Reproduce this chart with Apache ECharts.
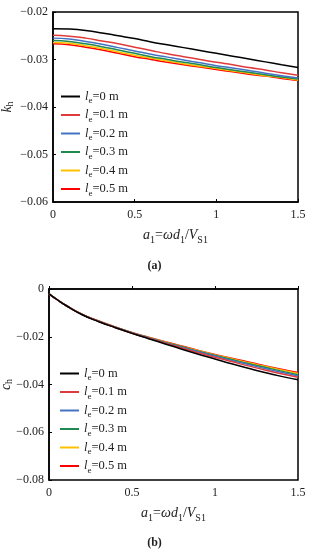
<!DOCTYPE html>
<html>
<head>
<meta charset="utf-8">
<script src="https://cdn.jsdelivr.net/npm/echarts@6/dist/echarts.min.js"></script>
<style>
html,body{margin:0;padding:0;background:#fff;}
#chart{width:309px;height:550px;}
</style>
</head>
<body>
<div id="chart"></div>
<script>
// ---- data ----
const seriesNames = ['0', '0.1', '0.2', '0.3', '0.4', '0.5'];
const seriesColors = ['#000000', '#e03a3a', '#4472c4', '#1e8a50', '#ffc000', '#ff0000'];

const xTop = [0, 0.1, 0.2, 0.3, 0.4, 0.5, 0.6, 0.7, 0.8, 0.9, 1.0, 1.1, 1.2, 1.3, 1.4, 1.5];
const kh_0   = [-0.0235,-0.0236,-0.0239,-0.0244,-0.0250,-0.0256,-0.0263,-0.0269,-0.0275,-0.0281,-0.0287,-0.0293,-0.0299,-0.0305,-0.0311,-0.0317];
const kh_0_1 = [-0.0249,-0.0251,-0.0255,-0.0261,-0.0267,-0.0274,-0.0281,-0.0288,-0.0294,-0.0300,-0.0306,-0.0311,-0.0317,-0.0322,-0.0328,-0.0333];
const kh_0_2 = [-0.0255,-0.0257,-0.0262,-0.0268,-0.0275,-0.0282,-0.0289,-0.0295,-0.0301,-0.0307,-0.0313,-0.0318,-0.0323,-0.0329,-0.0334,-0.0339];
const kh_0_3 = [-0.0260,-0.0262,-0.0267,-0.0273,-0.0280,-0.0287,-0.0294,-0.0300,-0.0306,-0.0311,-0.0317,-0.0322,-0.0327,-0.0332,-0.0337,-0.0341];
const kh_0_4 = [-0.0264,-0.0266,-0.0271,-0.0277,-0.0284,-0.0291,-0.0297,-0.0303,-0.0309,-0.0314,-0.0319,-0.0324,-0.0329,-0.0334,-0.0338,-0.0343];
const kh_0_5 = [-0.0267,-0.0269,-0.0274,-0.0280,-0.0287,-0.0294,-0.0300,-0.0306,-0.0311,-0.0316,-0.0321,-0.0326,-0.0331,-0.0335,-0.0340,-0.0344];

const xBot = [0, 0.05, 0.1, 0.2, 0.3, 0.4, 0.5, 0.6, 0.7, 0.8, 0.9, 1.0, 1.1, 1.2, 1.3, 1.4, 1.5];
const ch_0   = [-0.0020,-0.0045,-0.0068,-0.0108,-0.0137,-0.0162,-0.0186,-0.0208,-0.0230,-0.0252,-0.0273,-0.0293,-0.0313,-0.0332,-0.0350,-0.0366,-0.0380];
const ch_0_1 = [-0.0020,-0.0045,-0.0068,-0.0107,-0.0136,-0.0161,-0.0185,-0.0206,-0.0227,-0.0247,-0.0267,-0.0286,-0.0304,-0.0322,-0.0339,-0.0355,-0.0370];
const ch_0_2 = [-0.0020,-0.0045,-0.0068,-0.0107,-0.0136,-0.0161,-0.0184,-0.0205,-0.0225,-0.0244,-0.0263,-0.0281,-0.0299,-0.0316,-0.0333,-0.0349,-0.0364];
const ch_0_3 = [-0.0020,-0.0045,-0.0068,-0.0107,-0.0135,-0.0160,-0.0183,-0.0204,-0.0224,-0.0242,-0.0261,-0.0278,-0.0295,-0.0312,-0.0328,-0.0344,-0.0359];
const ch_0_4 = [-0.0020,-0.0045,-0.0068,-0.0106,-0.0135,-0.0160,-0.0183,-0.0203,-0.0222,-0.0241,-0.0259,-0.0276,-0.0292,-0.0309,-0.0324,-0.0339,-0.0354];
const ch_0_5 = [-0.0020,-0.0045,-0.0068,-0.0106,-0.0134,-0.0159,-0.0182,-0.0202,-0.0221,-0.0239,-0.0257,-0.0274,-0.0290,-0.0306,-0.0321,-0.0336,-0.0350];

const khData = [kh_0, kh_0_1, kh_0_2, kh_0_3, kh_0_4, kh_0_5];
const chData = [ch_0, ch_0_1, ch_0_2, ch_0_3, ch_0_4, ch_0_5];

const xTicks = {min: 0, max: 1.5, interval: 0.5};
const yTopTicks = {min: -0.06, max: -0.02, interval: 0.01};
const yBotTicks = {min: -0.08, max: 0, interval: 0.02};

// ---- chart ----
const FONT = '"Liberation Serif", "DejaVu Serif", serif';
const TXT = '#222';
const rich = {
  i: {fontFamily: FONT, fontStyle: 'italic', fontSize: 14, color: TXT},
  t: {fontFamily: FONT, fontSize: 14, color: TXT},
  s: {fontFamily: FONT, fontSize: 10, color: TXT, padding: [9, 0, 0, 0]}
};
const yRich = {
  i: {fontFamily: FONT, fontStyle: 'italic', fontSize: 14, color: TXT},
  s: {fontFamily: FONT, fontSize: 10, color: TXT, padding: [6, 0, 0, 0]}
};
const legRich = {
  i: {fontFamily: FONT, fontStyle: 'italic', fontSize: 12.5, color: TXT},
  t: {fontFamily: FONT, fontSize: 12.5, color: TXT},
  s: {fontFamily: FONT, fontSize: 9, color: TXT, padding: [9, 0, 0, 0]}
};
function fmtNum(v) {
  let s = (Math.round(v * 1000) / 1000).toString();
  return s.replace('-', '\u2212');
}
function zip(xs, ys) { return xs.map((x, i) => [x, ys[i]]); }
function legendName(n) { return 'le=' + n + ' m'; }

const chart = echarts.init(document.getElementById('chart'), null, {renderer: 'canvas'});

const grids = [
  {left: 53, right: 11, top: 12, height: 190, show: true, borderColor: '#000', borderWidth: 1.5, containLabel: false, outerBoundsMode: 'none'},
  {left: 49, right: 11, top: 289, height: 191, show: true, borderColor: '#000', borderWidth: 1.5, containLabel: false, outerBoundsMode: 'none'}
];

function xAxis(gi) {
  return {
    type: 'value', gridIndex: gi, min: xTicks.min, max: xTicks.max, interval: xTicks.interval,
    axisLine: {show: true, lineStyle: {color: '#000', width: 1.5}},
    axisTick: {show: true, inside: true, length: 3, lineStyle: {color: '#000'}},
    splitLine: {show: false},
    axisLabel: {fontFamily: FONT, fontSize: 12, color: TXT, margin: 7, formatter: v => fmtNum(v)},
    name: '{i|a}{s|1}{t|=}{i|ωd}{s|1}{t|/}{i|V}{s|S1}',
    nameLocation: 'middle', nameGap: 24, nameMoveOverlap: false,
    nameTextStyle: {rich: rich}
  };
}
function yAxis(gi, ticks, nm, gap) {
  return {
    type: 'value', gridIndex: gi, min: ticks.min, max: ticks.max, interval: ticks.interval,
    axisLine: {show: true, lineStyle: {color: '#000', width: 1.5}},
    axisTick: {show: true, inside: true, length: 3, lineStyle: {color: '#000'}},
    splitLine: {show: false},
    axisLabel: {fontFamily: FONT, fontSize: 12, color: TXT, margin: 5, formatter: v => fmtNum(v)},
    name: '{i|' + nm + '}{s|h}',
    nameLocation: 'middle', nameGap: gap, nameRotate: 90, nameMoveOverlap: false,
    nameTextStyle: {rich: yRich}
  };
}

const series = [];
seriesNames.forEach((n, k) => {
  series.push({
    name: legendName(n), type: 'line', xAxisIndex: 0, yAxisIndex: 0,
    data: zip(xTop, khData[k]), smooth: true, showSymbol: false,
    lineStyle: {color: seriesColors[k], width: 1.5}, itemStyle: {color: seriesColors[k]},
    z: 10 - k
  });
});
seriesNames.forEach((n, k) => {
  series.push({
    name: legendName(n), type: 'line', xAxisIndex: 1, yAxisIndex: 1,
    data: zip(xBot, chData[k]), smooth: true, showSymbol: false,
    lineStyle: {color: seriesColors[k], width: 1.5}, itemStyle: {color: seriesColors[k]},
    z: 10 - k
  });
});

function legend(left, top) {
  return {
    orient: 'vertical', left: left, top: top, itemGap: 3,
    itemWidth: 19, itemHeight: 2, icon: 'rect',
    data: seriesNames.map(legendName),
    formatter: name => '{i|l}{s|e}{t|=' + name.slice(3) + '}',
    textStyle: {rich: legRich},
    selectedMode: false
  };
}

chart.setOption({
  animation: false,
  backgroundColor: '#fff',
  title: [
    {text: '(a)', left: 'center', top: 255, textStyle: {fontFamily: FONT, fontSize: 12, fontWeight: 'bold', color: TXT}},
    {text: '(b)', left: 'center', top: 532, textStyle: {fontFamily: FONT, fontSize: 12, fontWeight: 'bold', color: TXT}}
  ],
  legend: [legend(56, 85), legend(55, 362)],
  grid: grids,
  xAxis: [xAxis(0), xAxis(1)],
  yAxis: [yAxis(0, yTopTicks, 'k', 38), yAxis(1, yBotTicks, 'c', 35)],
  series: series
});
</script>
</body>
</html>
